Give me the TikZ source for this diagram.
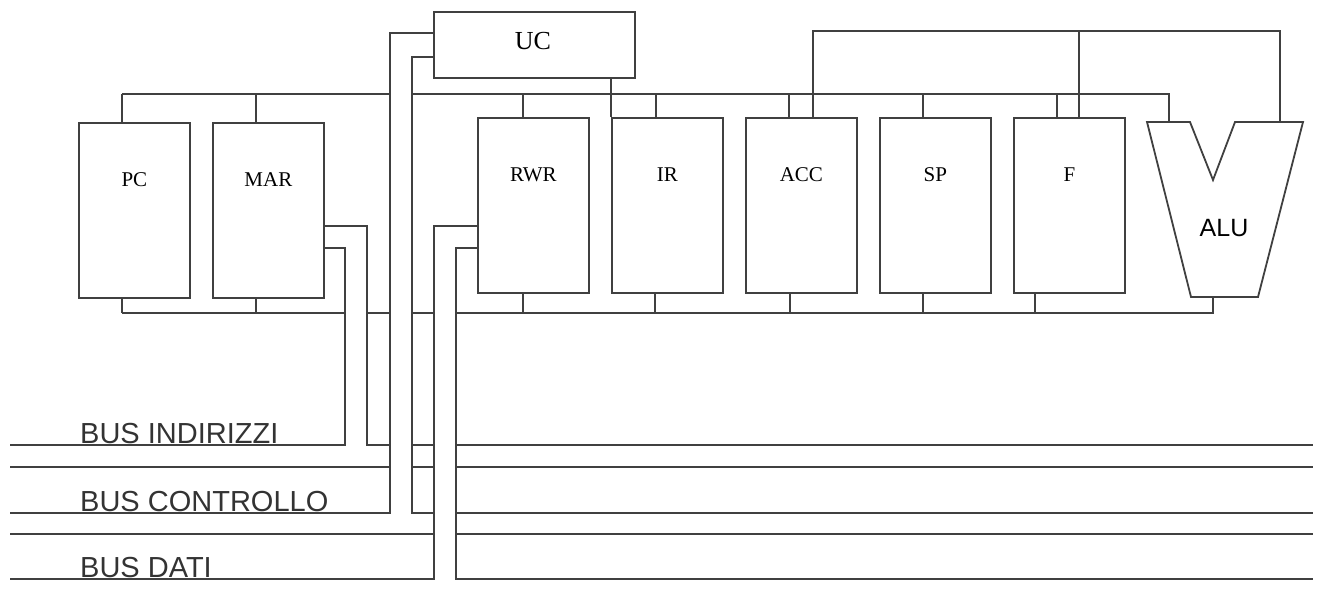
\documentclass[tikz,border=0pt]{standalone}
\usepackage{fontspec}
\setmainfont{Liberation Serif}
\newfontfamily\arialfont{Liberation Sans}
\usetikzlibrary{calc}

\begin{document}
\begin{tikzpicture}[
    x=1pt, y=-1pt,
    wire/.style   ={line width=1.8pt, draw=black!75},
    reg/.style    ={draw=black!75, line width=1.8pt, minimum width=111pt,
                    minimum height=175pt, inner sep=0pt, anchor=north west},
    regname/.style={font=\fontsize{21}{24}\selectfont, inner sep=0pt},
    busname/.style={font=\arialfont\fontsize{29}{32}\selectfont,
                    text=black!80, anchor=base west, inner sep=0pt}
]
\useasboundingbox (0,0) rectangle (1322,596);

% registers
\node[reg] (pc)  at (78,122) {};
\node[reg] (mar) at (212,122) {};
\foreach \r [count=\i from 0] in {rwr,ir,acc,sp,f}
    \node[reg] (\r) at (477+134*\i,117) {};
\node[reg, minimum width=201pt, minimum height=66pt] (uc) at (433,11) {};

\node[regname] (pc-l)  at ($(pc.north)+(0,58)$)  {PC};
\node[regname] (mar-l) at ($(mar.north)+(0,58)$) {MAR};
\foreach \r/\t in {rwr/RWR,ir/IR,acc/ACC,sp/SP,f/F}
    \node[regname] (\r-l) at ($(\r.north)+(0,58)$) {\t};
\node[regname, font=\fontsize{26}{28}\selectfont] (uc-l) at (533,41) {UC};

% ALU
\draw[wire] (1147,122) -- (1190,122) -- (1213,180) -- (1235,122)
    -- (1303,122) -- (1258,297) -- (1191,297) -- cycle;
\coordinate (alu-a) at (1169,122);
\coordinate (alu-b) at (1213,297);
\coordinate (alu-c) at (1280,122);
\node[font=\arialfont\fontsize{25}{28}\selectfont, inner sep=0pt] (alu) at (1224,228) {ALU};

% levels of the buses
\coordinate (ib) at (0,94);
\coordinate (ob) at (0,313);
\coordinate (fb) at (0,31);
\coordinate (l1) at (10,445);
\coordinate (l2) at (10,467);
\coordinate (l3) at (10,513);
\coordinate (l4) at (10,534);
\coordinate (l5) at (10,579);
\coordinate (re) at (1313,0);
\coordinate (marA) at (345,0);
\coordinate (marB) at (367,0);
\coordinate (ucA)  at (390,0);
\coordinate (ucB)  at (412,0);
\coordinate (rwrA) at (434,0);
\coordinate (rwrB) at (456,0);

% taps on the internal bus
\foreach \r/\dx in {pc/44,mar/44,rwr/46,ir/45,acc/44,sp/44,f/44} {
    \coordinate (\r-t) at ([xshift=\dx pt]\r.north west);
    \draw[wire] (\r-t) -- (\r-t |- ib);
}
\foreach \r/\dx in {pc/44,mar/44,rwr/46,ir/44,acc/45,sp/44,f/22} {
    \coordinate (\r-b) at ([xshift=\dx pt]\r.south west);
    \draw[wire] (\r-b) -- (\r-b |- ob);
}
\draw[wire] (pc-t |- ib) -- (ucA |- ib);
\draw[wire] (ucB |- ib) -- (alu-a |- ib) -- (alu-a);
\draw[wire] (pc-b |- ob) -- (marA |- ob);
\draw[wire] (marB |- ob) -- (ucA |- ob);
\draw[wire] (ucB |- ob) -- (rwrA |- ob);
\draw[wire] (rwrB |- ob) -- (alu-b |- ob) -- (alu-b);

% ALU feedback
\coordinate (acc-in) at ([xshift=68pt]acc.north west);
\coordinate (f-in)   at ([xshift=66pt]f.north west);
\draw[wire] (acc-in) -- (acc-in |- fb) -| (alu-c);
\draw[wire] (f-in) -- (f-in |- fb);

% UC
\draw[wire] (ir.north west |- uc.south) -- (ir.north west);
\draw[wire] ($(uc.north west)+(0,22)$) -| (ucA |- l3) -- (l3);
\draw[wire] ($(uc.north west)+(0,46)$) -| (ucB |- l3) -- (rwrA |- l3);

% MAR and RWR to the system buses
\draw[wire] ($(mar.north east)+(0,104)$) -| (marB |- l1) -- (ucA |- l1);
\draw[wire] ($(mar.north east)+(0,126)$) -| (marA |- l1) -- (l1);
\draw[wire] ($(rwr.north west)+(0,109)$) -| (rwrA |- l5) -- (l5);
\draw[wire] ($(rwr.north west)+(0,131)$) -| (rwrB |- l5) -- (l5 -| re);

% system buses
\draw[wire] (ucB |- l1) -- (rwrA |- l1);
\draw[wire] (l2) -- (ucA |- l2);
\draw[wire] (ucB |- l2) -- (rwrA |- l2);
\draw[wire] (l4) -- (rwrA |- l4);
\foreach \y in {l1,l2,l3,l4}
    \draw[wire] (rwrB |- \y) -- (\y -| re);

\node[busname] (bus-i) at (80,443) {BUS INDIRIZZI};
\node[busname] (bus-c) at (80,511) {BUS CONTROLLO};
\node[busname] (bus-d) at (80,577) {BUS DATI};
\end{tikzpicture}
\end{document}
